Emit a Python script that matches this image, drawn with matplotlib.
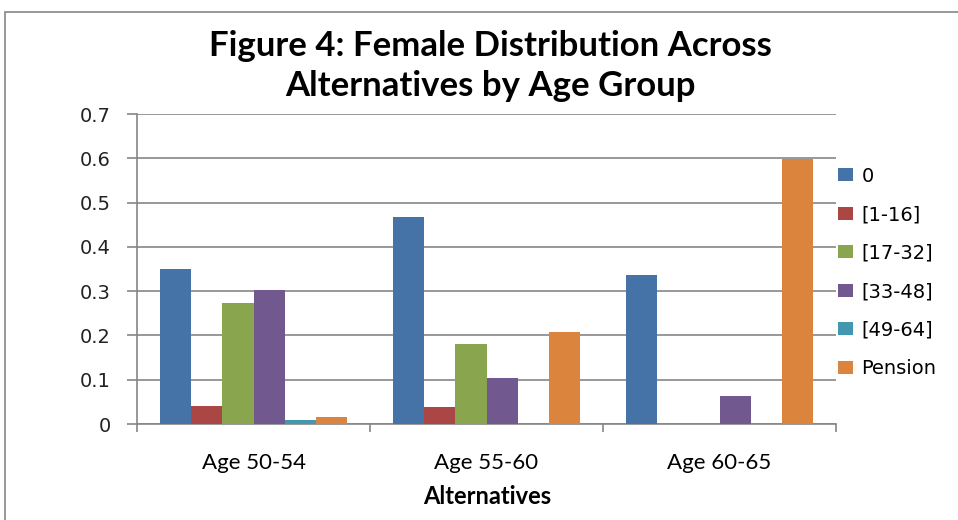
import matplotlib
matplotlib.use("Agg")
import matplotlib.pyplot as plt
import numpy as np
from matplotlib.patches import Rectangle

categories = ["Age 50-54", "Age 55-60", "Age 60-65"]
series_names = ["0", "[1-16]", "[17-32]", "[33-48]", "[49-64]", "Pension"]
v_zero = [0.350, 0.467, 0.336]
v_1_16 = [0.041, 0.038, 0.0]
v_17_32 = [0.273, 0.181, 0.0]
v_33_48 = [0.303, 0.104, 0.063]
v_49_64 = [0.009, 0.0, 0.0]
v_pension = [0.016, 0.208, 0.598]
yticks = [0, 0.1, 0.2, 0.3, 0.4, 0.5, 0.6, 0.7]
ytick_labels = ["0", "0.1", "0.2", "0.3", "0.4", "0.5", "0.6", "0.7"]

series = [v_zero, v_1_16, v_17_32, v_33_48, v_49_64, v_pension]
colors = ["#4572A7", "#AA4643", "#89A54E", "#71588F", "#4198AF", "#DB843D"]

W, H = 958, 520
fig = plt.figure(figsize=(W / 100, H / 100), dpi=100)
fig.patch.set_facecolor("white")

# outer chart border
fig.patches.append(Rectangle((5 / W, -0.05), 1.1, 1 - 12 / H + 0.05,
                             transform=fig.transFigure, fill=False,
                             edgecolor="#868686", linewidth=1.2))

ax = fig.add_axes([137 / W, 1 - 424 / H, (836 - 137) / W, (424 - 114) / H])

n = len(series)
bw = 1.0 / (n + 1.5)
x = np.arange(len(categories))
for i, (vals, c, name) in enumerate(zip(series, colors, series_names)):
    offs = (i - (n - 1) / 2) * bw
    ax.bar(x + 0.5 + offs, vals, width=bw, color=c, label=name, zorder=3)

ax.set_xlim(0, 3)
ax.set_ylim(0, 0.7)
ax.set_yticks(yticks)
ax.set_yticklabels(ytick_labels, fontsize=14, family="DejaVu Sans", color="#222222")
ax.yaxis.grid(True, color="#868686", linewidth=1.2, zorder=0)
ax.set_axisbelow(True)

ax.set_xticks([0, 1, 2, 3])
ax.set_xticklabels([])
ax.set_xticks(x + 0.5, minor=True)
ax.set_xticklabels(categories, minor=True, fontsize=16, family="Lato")
ax.tick_params(axis="x", which="minor", length=0, pad=21)
ax.tick_params(axis="x", which="major", length=6, color="#868686", width=1.2)
ax.tick_params(axis="y", length=7, color="#868686", width=1.2, pad=12)

for s in ["top", "right"]:
    ax.spines[s].set_visible(False)
for s in ["left", "bottom"]:
    ax.spines[s].set_color("#868686")
    ax.spines[s].set_linewidth(1.2)

fig.text(487 / W, 1 - 497 / H, "Alternatives", ha="center", va="center",
         fontsize=17, fontweight="bold", family="Lato")

fig.text(490 / W, 1 - 66 / H, "Figure 4: Female Distribution Across\nAlternatives by Age Group",
         ha="center", va="center", fontsize=25, fontweight="bold", family="Lato",
         linespacing=1.28)

leg = ax.legend(loc="upper left", bbox_to_anchor=(1.003, 0.83), frameon=False,
                prop={"family": "DejaVu Sans", "size": 14}, handlelength=0.75,
                handleheight=0.65, handletextpad=0.45, labelspacing=1.0,
                borderaxespad=0.0, borderpad=0.0)

fig.savefig("out.png", dpi=100)
